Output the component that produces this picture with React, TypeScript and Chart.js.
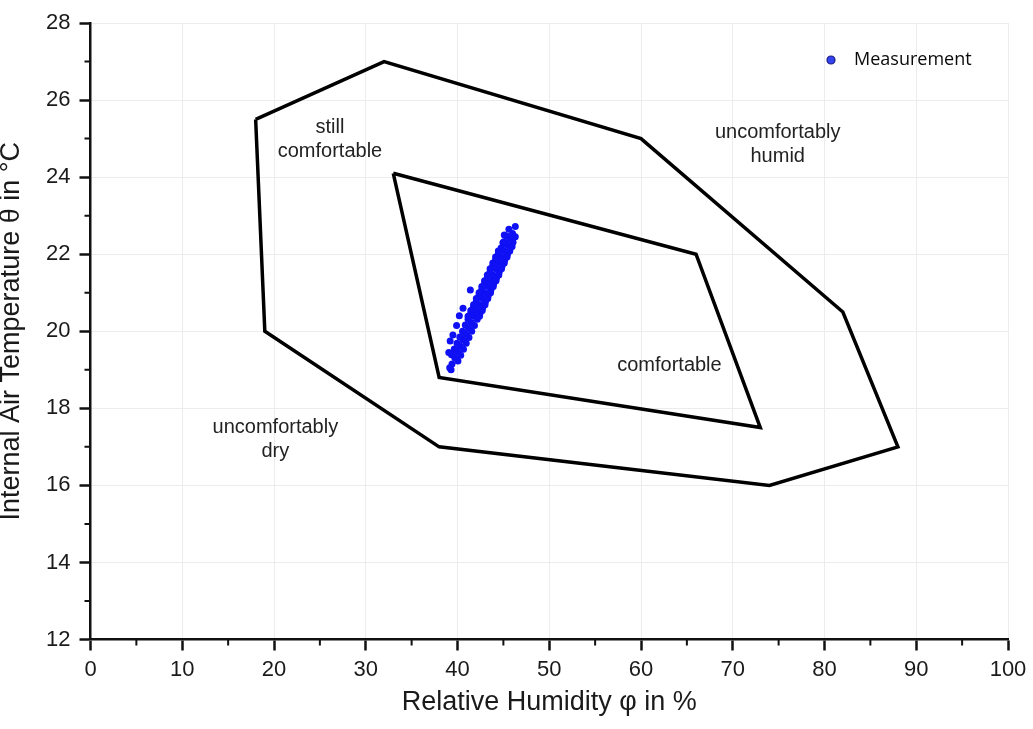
import React, { useEffect, useRef } from 'react';
import { Chart, registerables } from 'chart.js';

Chart.register(...registerables);

// Comfort zone polygons (relative humidity %, temperature °C)
const outerX = [18, 32, 60, 82, 88, 74, 38, 19, 18];
const outerY = [25.5, 27, 25, 20.5, 17, 16, 17, 20, 25.5];
const innerX = [33, 66, 73, 38, 33];
const innerY = [24.1, 22, 17.5, 18.8, 24.1];

const measX = [
  39.4, 39.7, 40.0, 40.3, 40.6, 40.9, 41.2, 41.5, 41.8, 42.1, 42.4, 42.7, 43.0, 43.3, 43.6, 43.9, 44.2, 44.5, 44.8, 45.1, 45.4, 45.7, 46.0,
  39.35, 39.65, 39.95, 40.25, 40.55, 40.85, 41.15, 41.45, 41.75, 42.05, 42.35, 42.65, 42.95, 43.25, 43.55, 43.85, 44.15, 44.45, 44.75, 45.05, 45.35,
  40.05, 40.35, 40.65, 40.95, 41.25, 41.55, 41.85, 42.15, 42.45, 42.75, 43.05, 43.35, 43.65, 43.95, 44.25, 44.55, 44.85, 45.15, 45.45, 45.75, 46.05,
  41.45, 42.05, 42.65, 43.25, 43.85, 44.45, 44.95,
  41.15, 41.75, 42.35, 42.95, 43.55, 44.15,
  42.4, 43.0, 43.6, 44.2, 44.8, 45.4, 45.95,
  42.7, 43.3, 43.9, 44.5, 45.1, 45.7,
  39.05, 39.2, 39.5, 39.9, 40.2, 40.6, 41.4, 39.3, 39.15, 45.6, 46.3, 45.1, 46.3,
];
const measY = [
  19.15, 19.31, 19.46, 19.61, 19.77, 19.92, 20.08, 20.23, 20.39, 20.54, 20.69, 20.85, 21.0, 21.16, 21.31, 21.46, 21.62, 21.77, 21.93, 22.08, 22.24, 22.39, 22.54,
  19.39, 19.54, 19.69, 19.85, 20.0, 20.16, 20.31, 20.47, 20.62, 20.77, 20.93, 21.08, 21.24, 21.39, 21.54, 21.7, 21.85, 22.01, 22.16, 22.32, 22.47,
  19.23, 19.38, 19.53, 19.69, 19.84, 20.0, 20.15, 20.31, 20.46, 20.61, 20.77, 20.92, 21.08, 21.23, 21.38, 21.54, 21.69, 21.85, 22.0, 22.16, 22.31,
  20.54, 20.85, 21.16, 21.46, 21.77, 22.08, 22.3,
  20.39, 20.69, 21.0, 21.31, 21.62, 21.93,
  20.39, 20.69, 21.0, 21.31, 21.62, 21.93, 22.2,
  20.54, 20.85, 21.16, 21.46, 21.77, 22.08,
  19.45, 19.75, 19.9, 20.15, 20.4, 20.6, 21.07, 19.0, 19.05, 22.65, 22.72, 22.5, 22.45,
];

const minorXTicks = [5, 15, 25, 35, 45, 55, 65, 75, 85, 95];
const minorYTicks = [13, 15, 17, 19, 21, 23, 25, 27];

const zoneLabels = [
  { lines: ['still', 'comfortable'], x: 26.1, y: 25.28 },
  { lines: ['uncomfortably', 'humid'], x: 74.9, y: 25.16 },
  { lines: ['comfortable'], x: 63.1, y: 19.1 },
  { lines: ['uncomfortably', 'dry'], x: 20.15, y: 17.49 },
];

const legendLabel = 'Measurement';
const xTitle = 'Relative Humidity φ in %';
const yTitle = 'Internal Air Temperature θ in °C';

const FONT = '"Liberation Sans", Arial, sans-serif';
const MEAS_COLOR = '#1010f5';

const overlayPlugin = {
  id: 'overlay',
  afterDraw(chart: any) {
    const { ctx, chartArea } = chart;
    const xs = chart.scales.x;
    const ys = chart.scales.y;
    ctx.save();
    // minor ticks
    ctx.strokeStyle = '#111';
    ctx.lineWidth = 2;
    ctx.beginPath();
    minorXTicks.forEach((v) => {
      const px = xs.getPixelForValue(v);
      ctx.moveTo(px, chartArea.bottom);
      ctx.lineTo(px, chartArea.bottom + 6);
    });
    minorYTicks.forEach((v) => {
      const py = ys.getPixelForValue(v);
      ctx.moveTo(chartArea.left, py);
      ctx.lineTo(chartArea.left - 6, py);
    });
    ctx.stroke();

    // zone labels
    ctx.fillStyle = '#222';
    ctx.font = `20px ${FONT}`;
    ctx.textAlign = 'center';
    ctx.textBaseline = 'middle';
    zoneLabels.forEach((lab) => {
      const px = xs.getPixelForValue(lab.x);
      const py = ys.getPixelForValue(lab.y);
      lab.lines.forEach((t, i) => ctx.fillText(t, px, py + i * 24));
    });

    // legend
    const lx = chartArea.right - 177;
    const ly = chartArea.top + 37;
    ctx.beginPath();
    ctx.arc(lx, ly, 4, 0, Math.PI * 2);
    ctx.fillStyle = '#3344ee';
    ctx.fill();
    ctx.lineWidth = 1.2;
    ctx.strokeStyle = '#1a1a80';
    ctx.stroke();
    ctx.fillStyle = '#0a0a0a';
    ctx.font = '18px "Open Sans", sans-serif';
    ctx.textAlign = 'left';
    ctx.textBaseline = 'middle';
    ctx.fillText(legendLabel, lx + 23, ly);
    ctx.restore();
  },
};

export default function App() {
  const ref = useRef<HTMLCanvasElement | null>(null);

  useEffect(() => {
    if (!ref.current) return;
    const chart = new Chart(ref.current, {
      type: 'scatter',
      data: {
        datasets: [
          {
            label: legendLabel,
            data: measX.map((x, i) => ({ x, y: measY[i] })),
            pointRadius: 3.5,
            pointBorderWidth: 0,
            pointBackgroundColor: MEAS_COLOR,
            backgroundColor: MEAS_COLOR,
            showLine: false,
          },
          {
            label: 'outer',
            data: outerX.map((x, i) => ({ x, y: outerY[i] })),
            showLine: true,
            pointRadius: 0,
            borderColor: '#000',
            borderWidth: 3.5,
            borderJoinStyle: 'miter',
            fill: false,
          },
          {
            label: 'inner',
            data: innerX.map((x, i) => ({ x, y: innerY[i] })),
            showLine: true,
            pointRadius: 0,
            borderColor: '#000',
            borderWidth: 3.5,
            borderJoinStyle: 'miter',
            fill: false,
          },
        ],
      },
      options: {
        responsive: false,
        animation: false,
        layout: { padding: { left: 0, top: 23, right: 25, bottom: 0 } },
        plugins: { legend: { display: false }, tooltip: { enabled: false } },
        scales: {
          x: {
            type: 'linear',
            position: 'bottom',
            min: 0,
            max: 100,
            ticks: {
              stepSize: 10,
              color: '#1a1a1a',
              font: { family: FONT, size: 22 },
              padding: 6,
              maxRotation: 0,
              autoSkip: false,
            },
            grid: { color: '#ececec', lineWidth: 1, tickLength: 11, tickColor: '#111', tickWidth: 2.5 },
            border: { color: '#111', width: 2.5 },
            title: {
              display: true,
              text: xTitle,
              color: '#1a1a1a',
              font: { family: FONT, size: 27 },
              padding: { top: 0, bottom: 10 },
            },
            afterFit: (s: any) => {
              s.height = 89.5;
            },
          },
          y: {
            type: 'linear',
            min: 12,
            max: 28,
            ticks: {
              stepSize: 2,
              color: '#1a1a1a',
              font: { family: FONT, size: 22 },
              padding: 9,
            },
            grid: { color: '#ececec', lineWidth: 1, tickLength: 11, tickColor: '#111', tickWidth: 2.5 },
            border: { color: '#111', width: 2.5 },
            title: {
              display: true,
              text: yTitle,
              color: '#1a1a1a',
              font: { family: FONT, size: 27, lineHeight: 1 },
              padding: { top: -2, bottom: 0 },
            },
            afterFit: (s: any) => {
              s.width = 90.5;
            },
          },
        },
      },
      plugins: [overlayPlugin],
    } as any);
    return () => chart.destroy();
  }, []);

  return (
    <div style={{ position: 'absolute', left: 0, top: 0, width: 1033, height: 729, background: '#fff' }}>
      <canvas ref={ref} width={1033} height={729} style={{ display: 'block' }} />
    </div>
  );
}
